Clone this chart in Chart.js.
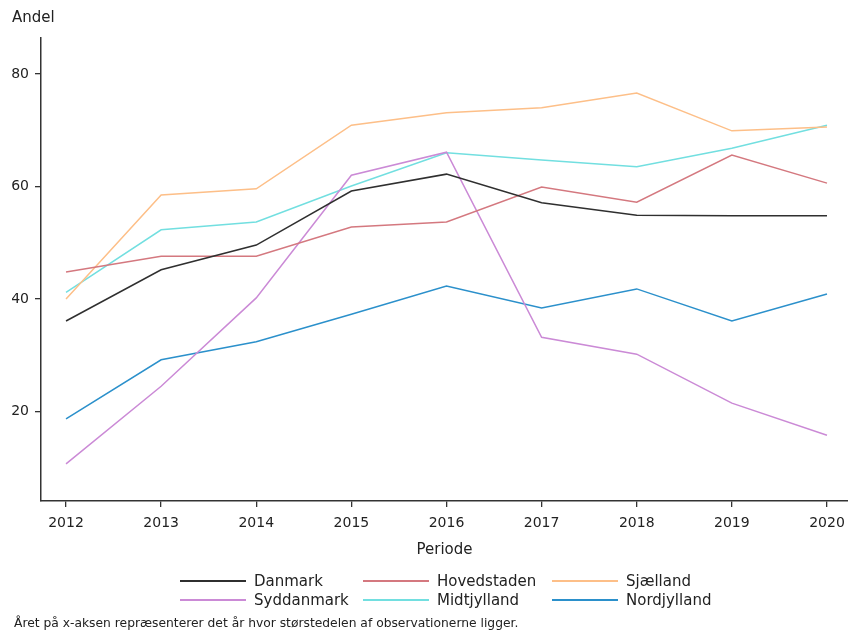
<!DOCTYPE html>
<html lang="da">
<head>
<meta charset="utf-8">
<title>Andel pr. region</title>
<script src="https://cdn.jsdelivr.net/npm/chart.js@4/dist/chart.umd.min.js"></script>
<style>
  html, body { margin: 0; padding: 0; background: #fff; }
  #wrap { width: 848px; height: 633px; position: relative; }
</style>
</head>
<body>
<div id="wrap"><canvas id="chart"></canvas></div>
<script>
// Andel pr. region, 2012–2020.
const years = [2012, 2013, 2014, 2015, 2016, 2017, 2018, 2019, 2020];
const yTicks = [20, 40, 60, 80];

const danmark     = [36.1, 45.2, 49.6, 59.2, 62.2, 57.1, 54.9, 54.8, 54.8];
const hovedstaden = [44.8, 47.6, 47.6, 52.8, 53.7, 59.9, 57.2, 65.6, 60.6];
const sjaelland   = [40.0, 58.5, 59.6, 70.9, 73.1, 74.0, 76.6, 69.9, 70.6];
const syddanmark  = [10.7, 24.5, 40.2, 62.0, 66.1, 33.2, 30.2, 21.5, 15.8];
const midtjylland = [41.2, 52.3, 53.7, 60.1, 66.0, 64.7, 63.5, 66.8, 70.9];
const nordjylland = [18.7, 29.2, 32.4, 37.3, 42.3, 38.4, 41.8, 36.1, 40.9];

const FONT = "'DejaVu Sans', Verdana, sans-serif";
const INK = "#333333";

const series = [
  { label: "Danmark",     data: danmark,     color: "#2f2f2f" },
  { label: "Hovedstaden", data: hovedstaden, color: "#d4787f" },
  { label: "Sjælland",    data: sjaelland,   color: "#fdbf88" },
  { label: "Syddanmark",  data: syddanmark,  color: "#cb8ad6" },
  { label: "Midtjylland", data: midtjylland, color: "#72dfe0" },
  { label: "Nordjylland", data: nordjylland, color: "#2b90cb" },
];

// Legend is laid out in fixed columns (3 per row), so it is drawn by hand below the axis.
const legendCols = [180, 363, 552];
const legendRows = [581, 600];
const sampleLen = 66;

const gridLegend = {
  id: "gridLegend",
  afterDraw(chart) {
    const ctx = chart.ctx;
    ctx.save();
    ctx.font = "15px " + FONT;
    ctx.textBaseline = "middle";
    ctx.textAlign = "left";
    chart.data.datasets.forEach((ds, i) => {
      const x = legendCols[i % 3];
      const y = legendRows[Math.floor(i / 3)];
      ctx.strokeStyle = ds.borderColor;
      ctx.lineWidth = 1.8;
      ctx.beginPath();
      ctx.moveTo(x, y);
      ctx.lineTo(x + sampleLen, y);
      ctx.stroke();
      ctx.fillStyle = "#222";
      ctx.fillText(ds.label, x + sampleLen + 8, y + 1);
    });
    ctx.font = "12.3px " + FONT;
    ctx.fillStyle = "#222";
    ctx.fillText("Året på x-aksen repræsenterer det år hvor størstedelen af observationerne ligger.", 14, 624);
    ctx.restore();
  },
};

new Chart(document.getElementById("chart"), {
  type: "line",
  data: {
    datasets: series.map((s) => ({
      label: s.label,
      data: years.map((yr, i) => ({ x: yr, y: s.data[i] })),
      borderColor: s.color,
      backgroundColor: s.color,
      borderWidth: 1.5,
      pointRadius: 0,
      tension: 0,
    })),
  },
  options: {
    responsive: true,
    maintainAspectRatio: false,
    animation: false,
    layout: { padding: { left: 12, top: 0, right: 0, bottom: 0 } },
    plugins: {
      legend: { display: false },
      tooltip: { enabled: false },
      title: {
        display: true,
        text: "Andel",
        align: "start",
        color: "#222",
        font: { family: FONT, size: 15, weight: "normal" },
        padding: { top: 9, bottom: 11 },
      },
    },
    scales: {
      x: {
        type: "linear",
        min: 2011.737,
        max: 2020.221,
        afterBuildTicks: (scale) => { scale.ticks = years.map((v) => ({ value: v })); },
        // axis runs to the canvas edge; the last label fits inside the range anyway
        afterFit: (scale) => {
          scale.height = 132;
          scale.paddingLeft = 0;
          scale.paddingRight = 0;
        },
        ticks: {
          color: "#222",
          font: { family: FONT, size: 14 },
          padding: 8,
          maxRotation: 0,
          callback: (v) => String(v),
        },
        grid: { drawOnChartArea: false, drawTicks: true, tickLength: 6, color: INK, lineWidth: 1.3 },
        border: { display: true, color: INK, width: 1.5 },
        title: {
          display: true,
          text: "Periode",
          color: "#222",
          font: { family: FONT, size: 15 },
          padding: { top: 0, bottom: 74 },
        },
      },
      y: {
        min: 4.1,
        max: 86.4,
        afterBuildTicks: (scale) => { scale.ticks = yTicks.map((v) => ({ value: v })); },
        afterFit: (scale) => { scale.width = 29; },
        ticks: {
          color: "#222",
          font: { family: FONT, size: 14 },
          padding: 6,
        },
        grid: { drawOnChartArea: false, drawTicks: true, tickLength: 6, color: INK, lineWidth: 1.3 },
        border: { display: true, color: INK, width: 1.5 },
      },
    },
  },
  plugins: [gridLegend],
});
</script>
</body>
</html>
